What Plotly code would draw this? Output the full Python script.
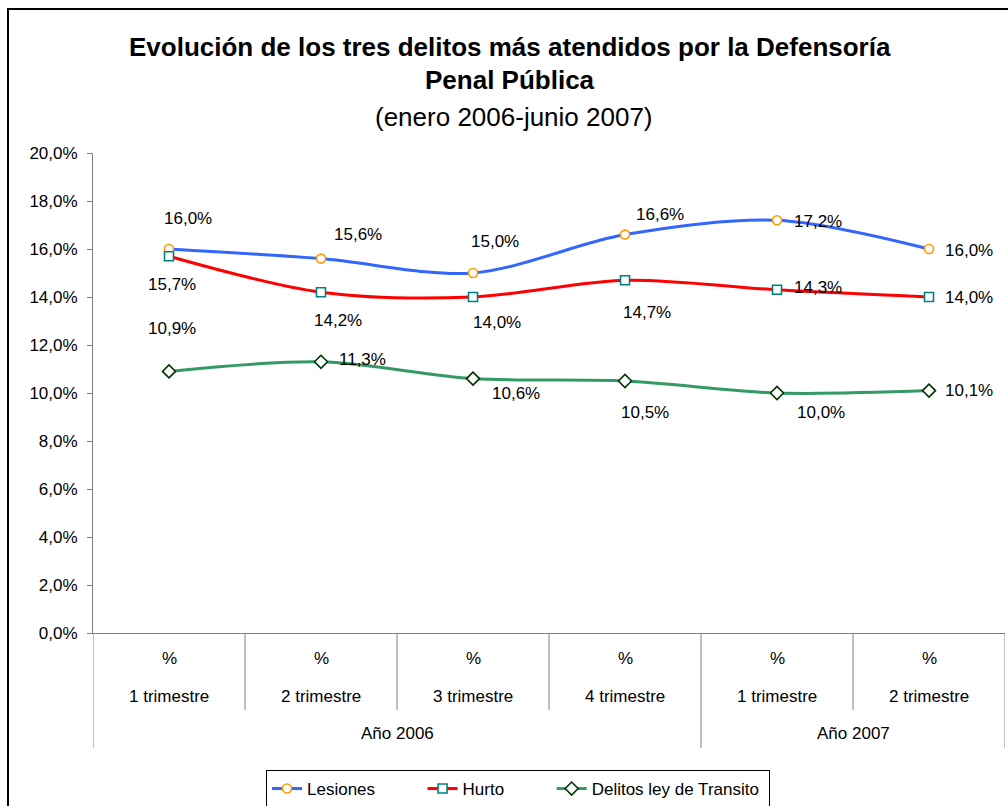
import plotly.graph_objects as go

# ---------------- data ----------------
measure = ["%", "%", "%", "%", "%", "%"]
quarters = ["1 trimestre", "2 trimestre", "3 trimestre", "4 trimestre", "1 trimestre", "2 trimestre"]
years = ["Año 2006", "Año 2006", "Año 2006", "Año 2006", "Año 2007", "Año 2007"]

series_names = ["Lesiones", "Hurto", "Delitos ley de Transito"]
lesiones = [16.0, 15.6, 15.0, 16.6, 17.2, 16.0]
hurto = [15.7, 14.2, 14.0, 14.7, 14.3, 14.0]
transito = [10.9, 11.3, 10.6, 10.5, 10.0, 10.1]

y_ticks = [0, 2, 4, 6, 8, 10, 12, 14, 16, 18, 20]

title_lines = ["Evolución de los tres delitos más atendidos por la Defensoría",
               "Penal Pública",
               "(enero 2006-junio 2007)"]

# ---------------- layout geometry ----------------
W, H = 1008, 806
L, R, T, B = 93, 3, 153, 173
PW, PH = W - L - R, H - T - B


def px_x(px):
    return (px - L) / PW


def px_y(py):
    return (T + PH - py) / PH


FONT = "Liberation Sans, Arial, sans-serif"
LBL = 17
NBSP = "\u00a0"


def fmt(v):
    return f"{v:.1f}%".replace(".", ",")


x_idx = list(range(len(quarters)))

styles = [
    dict(line=dict(color="#3366FF", width=3),
         marker=dict(symbol="circle", size=9, color="white", line=dict(color="#FF9900", width=1.6))),
    dict(line=dict(color="#FF0000", width=3),
         marker=dict(symbol="square", size=9, color="white", line=dict(color="#008080", width=1.6))),
    dict(line=dict(color="#339966", width=3),
         marker=dict(symbol="diamond", size=10, color="white", line=dict(color="#003300", width=1.6))),
]

# label offsets in pixels (dx right, dy down) for each series point
offsets = [
    [(19, -31), (37, -24), (22, -32), (35, -20), (41, 1), (40, 1)],
    [(3, 28), (17, 28), (24, 25), (22, 32), (41, -2), (40, 0)],
    [(3, -43), (41, -2), (43, 15), (20, 31), (44, 19), (40, 0)],
]

fig = go.Figure()
all_series = [lesiones, hurto, transito]
for k, (name, vals, st) in enumerate(zip(series_names, all_series, styles)):
    legend_name = name + (NBSP * 9 if k < len(series_names) - 1 else NBSP)
    fig.add_trace(go.Scatter(
        x=x_idx, y=vals, name=legend_name, mode="lines+markers",
        line=dict(shape="spline", smoothing=0.9, **st["line"]),
        marker=st["marker"],
    ))

annotations = []
for vals, offs in zip(all_series, offsets):
    for i, (v, (dx, dy)) in enumerate(zip(vals, offs)):
        annotations.append(dict(
            x=i, y=v, xref="x", yref="y", text=fmt(v), showarrow=False,
            xshift=dx, yshift=-dy, font=dict(size=LBL, color="black", family=FONT),
            xanchor="center", yanchor="middle"))

# category labels (three levels)
for i, (m, q) in enumerate(zip(measure, quarters)):
    annotations.append(dict(x=i, y=0, xref="x", yref="paper", text=m, showarrow=False,
                            yshift=-25, yanchor="middle",
                            font=dict(size=LBL, color="black", family=FONT)))
    annotations.append(dict(x=i, y=0, xref="x", yref="paper", text=q, showarrow=False,
                            yshift=-63, yanchor="middle",
                            font=dict(size=LBL, color="black", family=FONT)))

# year groups
groups = []
for i, yv in enumerate(years):
    if groups and groups[-1][0] == yv:
        groups[-1][2] = i
    else:
        groups.append([yv, i, i])
for yv, s, e in groups:
    annotations.append(dict(x=(s + e) / 2, y=0, xref="x", yref="paper", text=yv, showarrow=False,
                            yshift=-100, yanchor="middle",
                            font=dict(size=LBL, color="black", family=FONT)))

# title
annotations.append(dict(x=px_x(510), y=px_y(47), xref="paper", yref="paper",
                        text="<b>" + title_lines[0] + "</b>", showarrow=False, yanchor="middle",
                        font=dict(size=26, color="black", family=FONT)))
annotations.append(dict(x=px_x(510), y=px_y(80), xref="paper", yref="paper",
                        text="<b>" + title_lines[1] + "</b>", showarrow=False, yanchor="middle",
                        font=dict(size=26, color="black", family=FONT)))
annotations.append(dict(x=px_x(514), y=px_y(117), xref="paper", yref="paper",
                        text=title_lines[2], showarrow=False, yanchor="middle",
                        font=dict(size=26, color="black", family=FONT)))

shapes = []
# separators between categories
n = len(quarters)
outer_bounds = {-0.5, n - 0.5} | {s - 0.5 for _, s, _ in groups}
for k in range(n + 1):
    xb = k - 0.5
    bottom = px_y(748) if xb in outer_bounds else px_y(710)
    shapes.append(dict(type="line", xref="x", yref="paper", x0=xb, x1=xb, y0=0, y1=bottom,
                       line=dict(color="#808080", width=1)))
# chart border
shapes.append(dict(type="rect", xref="paper", yref="paper",
                   x0=px_x(8), x1=px_x(1015), y0=px_y(815), y1=px_y(9),
                   line=dict(color="black", width=2), layer="below"))

fig.update_layout(
    width=W, height=H,
    margin=dict(l=L, r=R, t=T, b=B, pad=0, autoexpand=False),
    paper_bgcolor="white", plot_bgcolor="white",
    font=dict(family=FONT, size=LBL, color="black"),
    showlegend=True,
    legend=dict(orientation="h", x=px_x(518), xanchor="center", y=px_y(770), yanchor="top",
                bordercolor="black", borderwidth=1, bgcolor="white",
                font=dict(size=LBL, color="black", family=FONT)),
    annotations=annotations,
    shapes=shapes,
    xaxis=dict(range=[-0.5, n - 0.5], showline=True, linecolor="#808080", linewidth=1,
               showticklabels=False, ticks="", showgrid=False, zeroline=False, fixedrange=True),
    yaxis=dict(range=[0, 20], tickvals=y_ticks, ticktext=[fmt(v) for v in y_ticks],
               showline=True, linecolor="#808080", linewidth=1, ticks="outside", ticklen=5,
               tickcolor="#808080", showgrid=False, zeroline=False,
               tickfont=dict(size=LBL, color="black", family=FONT), ticklabelstandoff=6),
)

fig.write_html("out.html", config={"displayModeBar": False},
               post_script="document.body.style.margin='0';document.body.style.overflow='hidden';")
